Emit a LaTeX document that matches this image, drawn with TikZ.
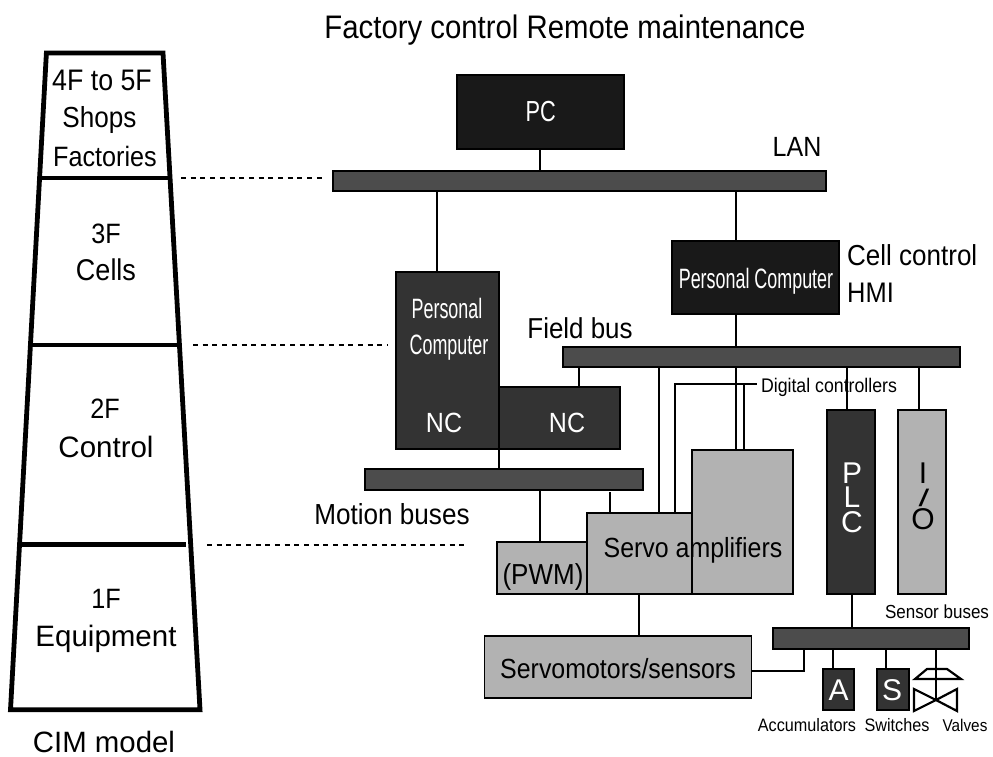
\documentclass[tikz,border=0pt]{standalone}
\usepackage{fontspec}
\setmainfont{Liberation Sans}
\newfontfamily\condfont[FakeStretch=0.9]{Liberation Sans}
\newfontfamily\narrowfont[FakeStretch=0.64]{Liberation Sans}
\tikzset{
  block/.style={draw=black, line width=1.3pt, inner sep=0pt, outer sep=0pt},
  busbar/.style={block, fill=black!70},
  darkbox/.style={block, fill=black!80},
  blackbox/.style={block, fill=black!90},
  greybox/.style={block, fill=black!30},
  wire/.style={line width=1.3pt},
  levelline/.style={line width=4.8pt, miter limit=10},
  levellink/.style={line width=1.3pt, dash pattern=on 5pt off 4.7pt},
  valveline/.style={line width=2.2pt},
  lbl/.style={inner sep=0pt, anchor=base, font=\fontsize{#1}{#1}\selectfont},
  condlbl/.style={inner sep=0pt, anchor=base, font=\condfont\fontsize{#1}{#1}\selectfont},
  narrowlbl/.style={inner sep=0pt, anchor=base, text=white, font=\narrowfont\fontsize{#1}{#1}\selectfont},
}
\begin{document}
\begin{tikzpicture}[x=1pt, y=-1pt]
  \useasboundingbox (0,0) rectangle (993,757);
  % CIM pyramid
  \draw[levelline] (46.4,53) -- (163,53) -- (200,709.7) -- (10.5,709.7) -- cycle;
  \draw[levelline, line width=4.5pt] (40,178) -- (169,178);
  \draw[levelline, line width=4.5pt] (31,345) -- (179,345);
  \draw[levelline, line width=4.5pt] (21,544.5) -- (186,544.5);
  \draw[levellink] (181,178) -- (326,178);
  \draw[levellink] (193,345) -- (388,345);
  \draw[levellink] (207,545) -- (468,545);
  % buses
  \node[busbar, minimum width=493pt, minimum height=20pt] (lan) at (579.5,181) {};
  \node[busbar, minimum width=397pt, minimum height=20pt] (field) at (761.5,357) {};
  \node[busbar, minimum width=278pt, minimum height=21pt] (motion) at (504,479.5) {};
  \node[busbar, minimum width=196pt, minimum height=21pt] (sensor) at (871,638.5) {};
  % boxes
  \node[blackbox, minimum width=167pt, minimum height=74pt] (pc) at (540.5,112) {};
  \node[blackbox, minimum width=167pt, minimum height=73pt] (cellpc) at (755.5,277.5) {};
  \node[darkbox, minimum width=103pt, minimum height=177pt] (ncpc) at (447.5,360.5) {};
  \node[darkbox, minimum width=121pt, minimum height=62pt] (nctwo) at (559.5,418) {};
  \node[greybox, minimum width=90pt, minimum height=52pt] (pwm) at (542,568) {};
  \node[greybox, minimum width=105pt, minimum height=81pt] (ampmid) at (639.5,553.5) {};
  \node[greybox, minimum width=101pt, minimum height=144pt] (ampbig) at (742.5,522) {};
  \node[greybox, minimum width=266.5pt, minimum height=62pt] (motors) at (618,667) {};
  \node[darkbox, minimum width=48pt, minimum height=184pt] (plc) at (851,502) {};
  \node[greybox, minimum width=48pt, minimum height=184pt] (io) at (922,502) {};
  \node[darkbox, minimum width=31pt, minimum height=41pt] (acc) at (838.5,689.5) {};
  \node[darkbox, minimum width=32pt, minimum height=41pt] (swi) at (893,689.5) {};
  % vertical taps
  \foreach \fromb/\tob/\tapx in {pc/lan/540, lan/ncpc/437, lan/cellpc/736, cellpc/field/736,
      field/nctwo/579, field/ampmid/659, field/ampbig/736, field/plc/847, field/io/919,
      ncpc/motion/499, motion/pwm/540, ampmid/motors/639, plc/sensor/852,
      sensor/acc/833, sensor/swi/886}{
    \coordinate (tap) at (\tapx,0);
    \draw[wire] (\fromb.south -| tap) -- (\tob.north -| tap);
  }
  \coordinate (tapb) at (610,0);
  \draw[wire, shorten <=2pt] (motion.south -| tapb) -- (ampmid.north -| tapb);
  % digital controllers
  \coordinate (digitap) at (757,384);
  \coordinate (tapc) at (675,0);
  \coordinate (tapd) at (744,0);
  \draw[wire] (ampmid.north -| tapc) |- (digitap);
  \draw[wire] (ampbig.north -| tapd) -- (tapd |- digitap);
  % servomotors to sensor bus
  \coordinate (motortap) at (804,671);
  \draw[wire] (motors.east |- motortap) -| (sensor.south -| motortap);
  % valve
  \coordinate (valve) at (936,700);
  \draw[wire] (sensor.south -| valve) -- (valve);
  \draw[valveline] (valve) -- ++(-22,-11) -- ++(0,22) -- cycle;
  \draw[valveline] (valve) -- ++(21,-11) -- ++(0,22) -- cycle;
  \draw[valveline] (915,679) -- (927,669) -- (947,669) -- (961,679) -- cycle;
  % labels
  \node[condlbl=32.6] (title) at (565,39) {Factory control Remote maintenance};
  \node[condlbl=29.7] (lvla) at (102,91) {4F to 5F};
  \node[condlbl=29] (lvlb) at (99.5,128) {Shops};
  \node[condlbl=28] (lvlc) at (105,166) {Factories};
  \node[condlbl=28] (lvld) at (106,243) {3F};
  \node[condlbl=30] (lvle) at (106,280) {Cells};
  \node[condlbl=28] (lvlf) at (105,418) {2F};
  \node[lbl=29.5] (lvlg) at (106,457) {Control};
  \node[condlbl=28] (lvlh) at (106,608) {1F};
  \node[lbl=29.5] (lvli) at (106,646) {Equipment};
  \node[lbl=29.4] (cim) at (104,752.5) {CIM model};
  \node[lbl=29, text=white] (pctext) at (540.7,122) {\scalebox{.75}[1]{PC}};
  \node[condlbl=27.8] (lantext) at (797,157) {LAN};
  \node[condlbl=28.9, anchor=base west] (cellctl) at (847,265) {Cell control};
  \node[condlbl=28.3, anchor=base west] (hmi) at (847,302) {HMI};
  \node[condlbl=28.8] (fieldtext) at (580,338) {Field bus};
  \node[condlbl=29] (motiontext) at (392,524) {Motion buses};
  \node[narrowlbl=28] (cellpctext) at (756,288) {Personal Computer};
  \node[narrowlbl=28] (perstext) at (447,318) {Personal};
  \node[narrowlbl=28] (comptext) at (449,354) {Computer};
  \node[condlbl=27.8, text=white] (ncatext) at (444,432) {NC};
  \node[condlbl=27.8, text=white] (ncbtext) at (567,432) {NC};
  \node[condlbl=28.9] (pwmtext) at (543,584) {(PWM)};
  \node[condlbl=27.7] (amptext) at (693,557) {Servo amplifiers};
  \node[condlbl=27.7] (motortext) at (618,678) {Servomotors/sensors};
  \node[condlbl=19.7] (digitext) at (829,392) {Digital controllers};
  \node[lbl=30, text=white] (plca) at (852,483) {P};
  \node[lbl=30, text=white] (plcb) at (852,507) {L};
  \node[lbl=30, text=white] (plcc) at (852,532) {C};
  \node[lbl=30] (ioa) at (923,483) {I};
  \node[lbl=24] (iob) at (924,506) {\scalebox{1.6}[1]{/}};
  \node[lbl=30] (ioc) at (923,529) {O};
  \node[condlbl=18.9] (sensortext) at (937,618) {Sensor buses};
  \node[lbl=30, text=white] (acctext) at (838.5,700) {A};
  \node[lbl=30, text=white] (switext) at (892,700) {S};
  \node[condlbl=18] (acclabel) at (807,731) {Accumulators};
  \node[condlbl=18] (swilabel) at (897,731) {Switches};
  \node[condlbl=17] (vallabel) at (965,731) {Valves};
\end{tikzpicture}
\end{document}
